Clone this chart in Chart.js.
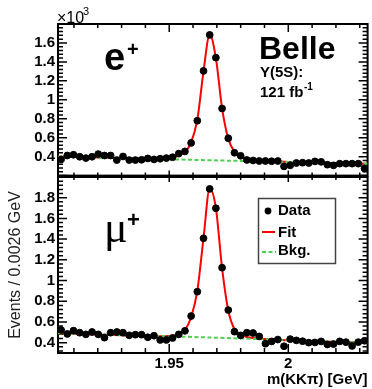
<!DOCTYPE html>
<html>
<head>
<meta charset="utf-8">
<script src="https://cdn.jsdelivr.net/npm/chart.js@4.4.0/dist/chart.umd.min.js"></script>
<style>
  body { margin: 0; background: #fff; }
  #wrap { position: relative; width: 372px; height: 389px; }
  canvas { position: absolute; left: 0; }
  #topChart { top: 0; }
  #botChart { top: 170px; }
</style>
</head>
<body>
<div id="wrap">
  <canvas id="topChart" width="372" height="180"></canvas>
  <canvas id="botChart" width="372" height="219"></canvas>
</div>
<script>
// bin centres of m(KKpi) in GeV (bin width 0.0026)
const binCenters = [
  1.9046, 1.9072, 1.9098, 1.9124, 1.9150, 1.9176, 1.9202, 1.9228, 1.9254, 1.9280,
  1.9306, 1.9332, 1.9358, 1.9384, 1.9410, 1.9436, 1.9462, 1.9488, 1.9514, 1.9540,
  1.9566, 1.9592, 1.9618, 1.9644, 1.9670, 1.9696, 1.9722, 1.9748, 1.9774, 1.9800,
  1.9826, 1.9852, 1.9878, 1.9904, 1.9930, 1.9956, 1.9982, 2.0008, 2.0034, 2.0060,
  2.0086, 2.0112, 2.0138, 2.0164, 2.0190, 2.0216, 2.0242, 2.0268, 2.0294, 2.0320
];
// events per bin, x10^3
const ePlusData = [
  0.371, 0.412, 0.420, 0.399, 0.385, 0.399, 0.427, 0.412, 0.412, 0.364,
  0.402, 0.364, 0.364, 0.367, 0.381, 0.371, 0.378, 0.385, 0.394, 0.432,
  0.455, 0.545, 0.779, 1.305, 1.685, 1.445, 0.908, 0.594, 0.441, 0.409,
  0.365, 0.360, 0.354, 0.354, 0.352, 0.354, 0.297, 0.308, 0.333, 0.336,
  0.333, 0.350, 0.345, 0.315, 0.308, 0.326, 0.326, 0.326, 0.326, 0.275
];
const muPlusData = [
  0.522, 0.484, 0.516, 0.496, 0.480, 0.503, 0.480, 0.448, 0.496, 0.503,
  0.496, 0.471, 0.477, 0.477, 0.452, 0.467, 0.426, 0.426, 0.445, 0.480,
  0.514, 0.657, 0.892, 1.408, 1.885, 1.698, 1.124, 0.715, 0.506, 0.470,
  0.496, 0.493, 0.460, 0.390, 0.412, 0.430, 0.365, 0.434, 0.422, 0.414,
  0.400, 0.402, 0.412, 0.382, 0.386, 0.412, 0.405, 0.368, 0.405, 0.418
];
// fit curves
const fitX = [1.9033, 1.93, 1.945, 1.9514, 1.954, 1.9566, 1.9592, 1.9618, 1.9644, 1.967,
              1.9696, 1.9722, 1.9748, 1.9774, 1.98, 1.9826, 1.99, 2.0333];
const ePlusFit = [0.400, 0.386, 0.378, 0.390, 0.412, 0.450, 0.550, 0.790, 1.300, 1.690,
                  1.440, 0.910, 0.590, 0.450, 0.400, 0.378, 0.356, 0.325];
const muPlusFit = [0.490, 0.472, 0.462, 0.466, 0.482, 0.522, 0.645, 0.900, 1.410, 1.890,
                   1.700, 1.120, 0.710, 0.530, 0.478, 0.455, 0.436, 0.400];
// background
const bkgX = [1.9033, 1.96, 2.0333];
const ePlusBkg = [0.400, 0.366, 0.325];
const muPlusBkg = [0.490, 0.455, 0.400];

const xMin = 1.9033, xMax = 2.0333;
const xTicks = [1.95, 2.0];
const yTicksTop = [0.4, 0.6, 0.8, 1.0, 1.2, 1.4, 1.6];
const yTicksBot = [0.4, 0.6, 0.8, 1.0, 1.2, 1.4, 1.6, 1.8];

Chart.defaults.font.family = "'Liberation Sans', Arial, sans-serif";
Chart.defaults.color = '#000';

function fmt(v) { return String(Number(Number(v).toFixed(3))); }
function points(xs, ys) { return xs.map((x, i) => ({ x: x, y: ys[i] })); }

// ROOT style frame with inward ticks
function frameTicks(lenTop, lenBottom) {
  return {
    id: 'frameTicks',
    beforeDatasetsDraw(chart) {
      const { ctx, chartArea: a, scales: { x, y } } = chart;
      ctx.save();
      ctx.strokeStyle = '#000';
      ctx.lineWidth = 1.5;
      ctx.beginPath();
      for (let i = Math.ceil(xMin / 0.01); i * 0.01 <= xMax; i++) {
        const px = x.getPixelForValue(i * 0.01);
        const major = i % 5 === 0;
        ctx.moveTo(px, a.top); ctx.lineTo(px, a.top + (major ? lenTop[0] : lenTop[1]));
        ctx.moveTo(px, a.bottom); ctx.lineTo(px, a.bottom - (major ? lenBottom[0] : lenBottom[1]));
      }
      for (let i = Math.ceil(y.min / 0.04 - 1e-6); i * 0.04 <= y.max + 1e-6; i++) {
        const py = y.getPixelForValue(i * 0.04);
        const l = i % 5 === 0 ? 9 : 5;
        ctx.moveTo(a.left, py); ctx.lineTo(a.left + l, py);
        ctx.moveTo(a.right, py); ctx.lineTo(a.right - l, py);
      }
      ctx.stroke();
      ctx.lineWidth = 2;
      ctx.strokeRect(a.left, a.top, a.right - a.left, a.bottom - a.top);
      ctx.restore();
    }
  };
}

const topText = {
  id: 'topText',
  afterDraw(chart) {
    const ctx = chart.ctx;
    ctx.save();
    ctx.fillStyle = '#000';
    ctx.textAlign = 'left';
    ctx.textBaseline = 'alphabetic';
    ctx.font = "16px 'Liberation Sans'";
    ctx.fillText('×10', 57, 23);
    ctx.font = "11px 'Liberation Sans'";
    ctx.fillText('3', 83, 15);
    ctx.font = "bold 38px 'Liberation Sans'";
    ctx.fillText('e', 104, 70);
    ctx.font = "bold 20px 'Liberation Sans'";
    ctx.fillText('+', 127, 56);
    ctx.font = "bold 32px 'Liberation Sans'";
    ctx.fillText('Belle', 259, 59);
    ctx.font = "bold 15px 'Liberation Sans'";
    ctx.fillText('Υ(5S):', 260, 77);
    ctx.fillText('121 fb', 260, 97);
    ctx.font = "bold 10px 'Liberation Sans'";
    ctx.fillText('-1', 304, 90);
    ctx.restore();
  }
};

const botText = {
  id: 'botText',
  afterDraw(chart) {
    const ctx = chart.ctx;
    ctx.save();
    ctx.fillStyle = '#000';
    ctx.textAlign = 'left';
    ctx.textBaseline = 'alphabetic';
    ctx.font = "44px 'Liberation Serif'";
    ctx.fillText('μ', 104, 72);
    ctx.font = "bold 22px 'Liberation Sans'";
    ctx.fillText('+', 127, 57);
    // legend
    ctx.fillStyle = '#fff';
    ctx.fillRect(258.5, 28.5, 77, 65);
    ctx.strokeStyle = '#444';
    ctx.lineWidth = 1.5;
    ctx.strokeRect(258.5, 28.5, 77, 65);
    ctx.fillStyle = '#000';
    ctx.beginPath();
    ctx.arc(268, 41, 3.4, 0, Math.PI * 2);
    ctx.fill();
    ctx.strokeStyle = '#ff0000';
    ctx.lineWidth = 2;
    ctx.beginPath(); ctx.moveTo(262, 62); ctx.lineTo(275, 62); ctx.stroke();
    ctx.strokeStyle = '#4fcf4f';
    ctx.setLineDash([4, 2.5]);
    ctx.beginPath(); ctx.moveTo(262, 82); ctx.lineTo(276, 82); ctx.stroke();
    ctx.setLineDash([]);
    ctx.font = "bold 15px 'Liberation Sans'";
    ctx.textBaseline = 'middle';
    ctx.fillText('Data', 278, 41);
    ctx.fillText('Fit', 278, 63);
    ctx.fillText('Bkg.', 278, 81);
    ctx.restore();
  }
};

function makePanel(id, o) {
  return new Chart(document.getElementById(id), {
    type: 'scatter',
    data: {
      datasets: [
        { label: 'Data', data: points(binCenters, o.data), backgroundColor: '#000', borderColor: '#000',
          pointRadius: 3.4, pointHoverRadius: 3.4, order: 0 },
        { label: 'Bkg.', type: 'line', data: points(bkgX, o.bkg), borderColor: '#4fcf4f', borderWidth: 2,
          borderDash: [4, 2.5], pointRadius: 0, fill: false, order: 1 },
        { label: 'Fit', type: 'line', data: points(fitX, o.fit), borderColor: '#ff0000', borderWidth: 2,
          pointRadius: 0, cubicInterpolationMode: 'monotone', fill: false, order: 2 }
      ]
    },
    options: {
      responsive: false,
      animation: false,
      events: [],
      layout: { padding: o.padding },
      plugins: { legend: { display: false }, tooltip: { enabled: false } },
      scales: {
        x: {
          type: 'linear', min: xMin, max: xMax, display: o.showX,
          grid: { display: false, drawTicks: false }, border: { display: false },
          afterBuildTicks: s => { s.ticks = xTicks.map(v => ({ value: v })); },
          afterFit: s => {
            if (o.showX) s.height = 36;
            s.paddingLeft = 0; s.paddingRight = 0;
          },
          ticks: { font: { size: 15, weight: 'bold' }, padding: 2, maxRotation: 0, autoSkip: false, callback: fmt },
          title: { display: o.showX, text: 'm(KKπ) [GeV]', align: 'end',
                   font: { size: 15, weight: 'bold' }, padding: { top: 0, bottom: 0 } }
        },
        y: {
          type: 'linear', min: o.yMin, max: o.yMax,
          grid: { display: false, drawTicks: false }, border: { display: false },
          afterBuildTicks: s => { s.ticks = o.yTicks.map(v => ({ value: v })); },
          afterFit: s => { s.width = 58; s.paddingTop = 0; s.paddingBottom = 0; },
          ticks: { font: { size: 15, weight: 'bold' }, padding: 3, autoSkip: false, callback: fmt },
          title: { display: o.yTitle, text: 'Events / 0.0026 GeV', color: '#222',
                   font: { size: 16, weight: 'normal' }, padding: { top: 6, bottom: 6 } }
        }
      }
    },
    plugins: [frameTicks(o.lenTop, o.lenBottom), o.text]
  });
}

makePanel('topChart', {
  data: ePlusData, fit: ePlusFit, bkg: ePlusBkg,
  yMin: 0.2, yMax: 1.8, yTicks: yTicksTop, showX: false, yTitle: false,
  padding: { top: 24, right: 1, bottom: 3, left: 0 },
  lenTop: [8, 4], lenBottom: [5, 3], text: topText
});

makePanel('botChart', {
  data: muPlusData, fit: muPlusFit, bkg: muPlusBkg,
  yMin: 0.3, yMax: 2.0, yTicks: yTicksBot, showX: true, yTitle: true,
  padding: { top: 7, right: 1, bottom: 0, left: 0 },
  lenTop: [5, 3], lenBottom: [9, 5], text: botText
});
</script>
</body>
</html>
